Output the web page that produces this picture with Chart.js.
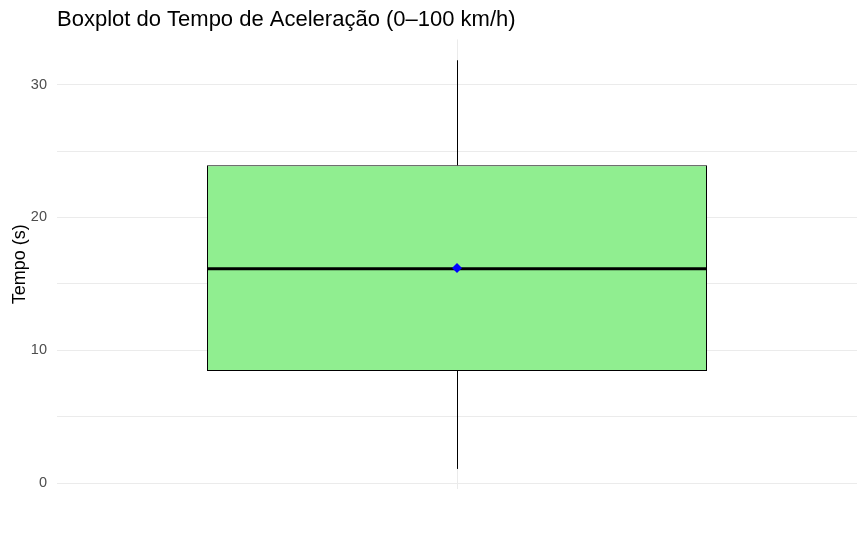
<!DOCTYPE html>
<html>
<head>
<meta charset="utf-8">
<script src="https://cdn.jsdelivr.net/npm/chart.js@4.4.1/dist/chart.umd.min.js"></script>
<style>
  html, body { margin: 0; padding: 0; background: #fff; }
  #wrap { width: 865px; height: 546px; }
</style>
</head>
<body>
<div id="wrap"><canvas id="cnvs_box"></canvas></div>
<script>
// boxplot stats
const categories = ['Tempo'];
const q1 = [8.45];
const median = [16.15];
const q3 = [23.93];
const whiskerLow = [1.08];
const whiskerHigh = [31.83];
const meanValues = [16.2];
const yTicks = [0, 10, 20, 30];
const yMinorTicks = [5, 15, 25];

const FONT = "'Liberation Sans', Arial, sans-serif";

// whiskers + median line, drawn right after the box
const boxExtras = {
  id: 'boxExtras',
  afterDatasetDraw(chart, args) {
    if (args.meta.type !== 'bar') return;
    const ctx = chart.ctx;
    const y = chart.scales.y;
    args.meta.data.forEach(function(bar, i) {
      const half = bar.width / 2;
      const cx = Math.round(bar.x) + 0.5;
      ctx.save();
      ctx.strokeStyle = '#000';
      ctx.lineWidth = 1;
      ctx.beginPath();
      ctx.moveTo(cx, y.getPixelForValue(q3[i]));
      ctx.lineTo(cx, y.getPixelForValue(whiskerHigh[i]));
      ctx.moveTo(cx, y.getPixelForValue(q1[i]));
      ctx.lineTo(cx, y.getPixelForValue(whiskerLow[i]));
      ctx.stroke();
      ctx.lineWidth = 3;
      ctx.beginPath();
      ctx.moveTo(bar.x - half, y.getPixelForValue(median[i]));
      ctx.lineTo(bar.x + half, y.getPixelForValue(median[i]));
      ctx.stroke();
      ctx.restore();
    });
  }
};

const conf = {
  type: 'bar',
  data: {
    labels: categories,
    datasets: [
      {
        type: 'line',
        label: 'Média',
        data: meanValues,
        showLine: false,
        pointStyle: 'rectRot',
        pointRadius: 5,
        pointBackgroundColor: '#0000FF',
        pointBorderColor: '#0000FF',
        pointBorderWidth: 0,
        order: 0
      },
      {
        label: 'Tempo',
        data: q1.map(function(v, i) { return [v, q3[i]]; }),
        backgroundColor: '#90EE90',
        borderColor: '#000000',
        borderWidth: 1,
        borderSkipped: false,
        categoryPercentage: 1,
        barPercentage: 0.625,
        order: 1
      }
    ]
  },
  options: {
    responsive: true,
    maintainAspectRatio: false,
    animation: false,
    layout: { padding: { left: 0, right: 8, top: 0, bottom: 57 } },
    plugins: {
      legend: { display: false },
      tooltip: { enabled: false },
      title: {
        display: true,
        text: 'Boxplot do Tempo de Aceleração (0–100 km/h)',
        align: 'start',
        fullSize: false,
        color: '#000',
        font: { family: FONT, size: 22, weight: 'normal' },
        padding: { top: 7, bottom: 6 }
      }
    },
    scales: {
      x: {
        offset: true,
        grid: { display: true, offset: false, color: '#EBEBEB', drawTicks: false },
        border: { display: false },
        ticks: { display: false }
      },
      y: {
        min: -0.43,
        max: 33.4,
        afterBuildTicks: function(scale) {
          scale.ticks = yTicks.concat(yMinorTicks).sort(function(a, b) { return a - b; })
            .map(function(v) { return { value: v }; });
        },
        afterFit: function(scale) { scale.width = 57; },
        grid: { color: '#EBEBEB', drawTicks: false },
        border: { display: false },
        ticks: {
          padding: 10,
          color: '#4D4D4D',
          font: { family: FONT, size: 14.5 },
          callback: function(v) { return yTicks.includes(v) ? String(v) : ''; }
        },
        title: {
          display: true,
          text: 'Tempo (s)',
          color: '#000',
          font: { family: FONT, size: 18 },
          padding: { top: 9, bottom: 0 }
        }
      }
    }
  },
  plugins: [boxExtras]
};

new Chart(document.getElementById('cnvs_box').getContext('2d'), conf);
</script>
</body>
</html>
